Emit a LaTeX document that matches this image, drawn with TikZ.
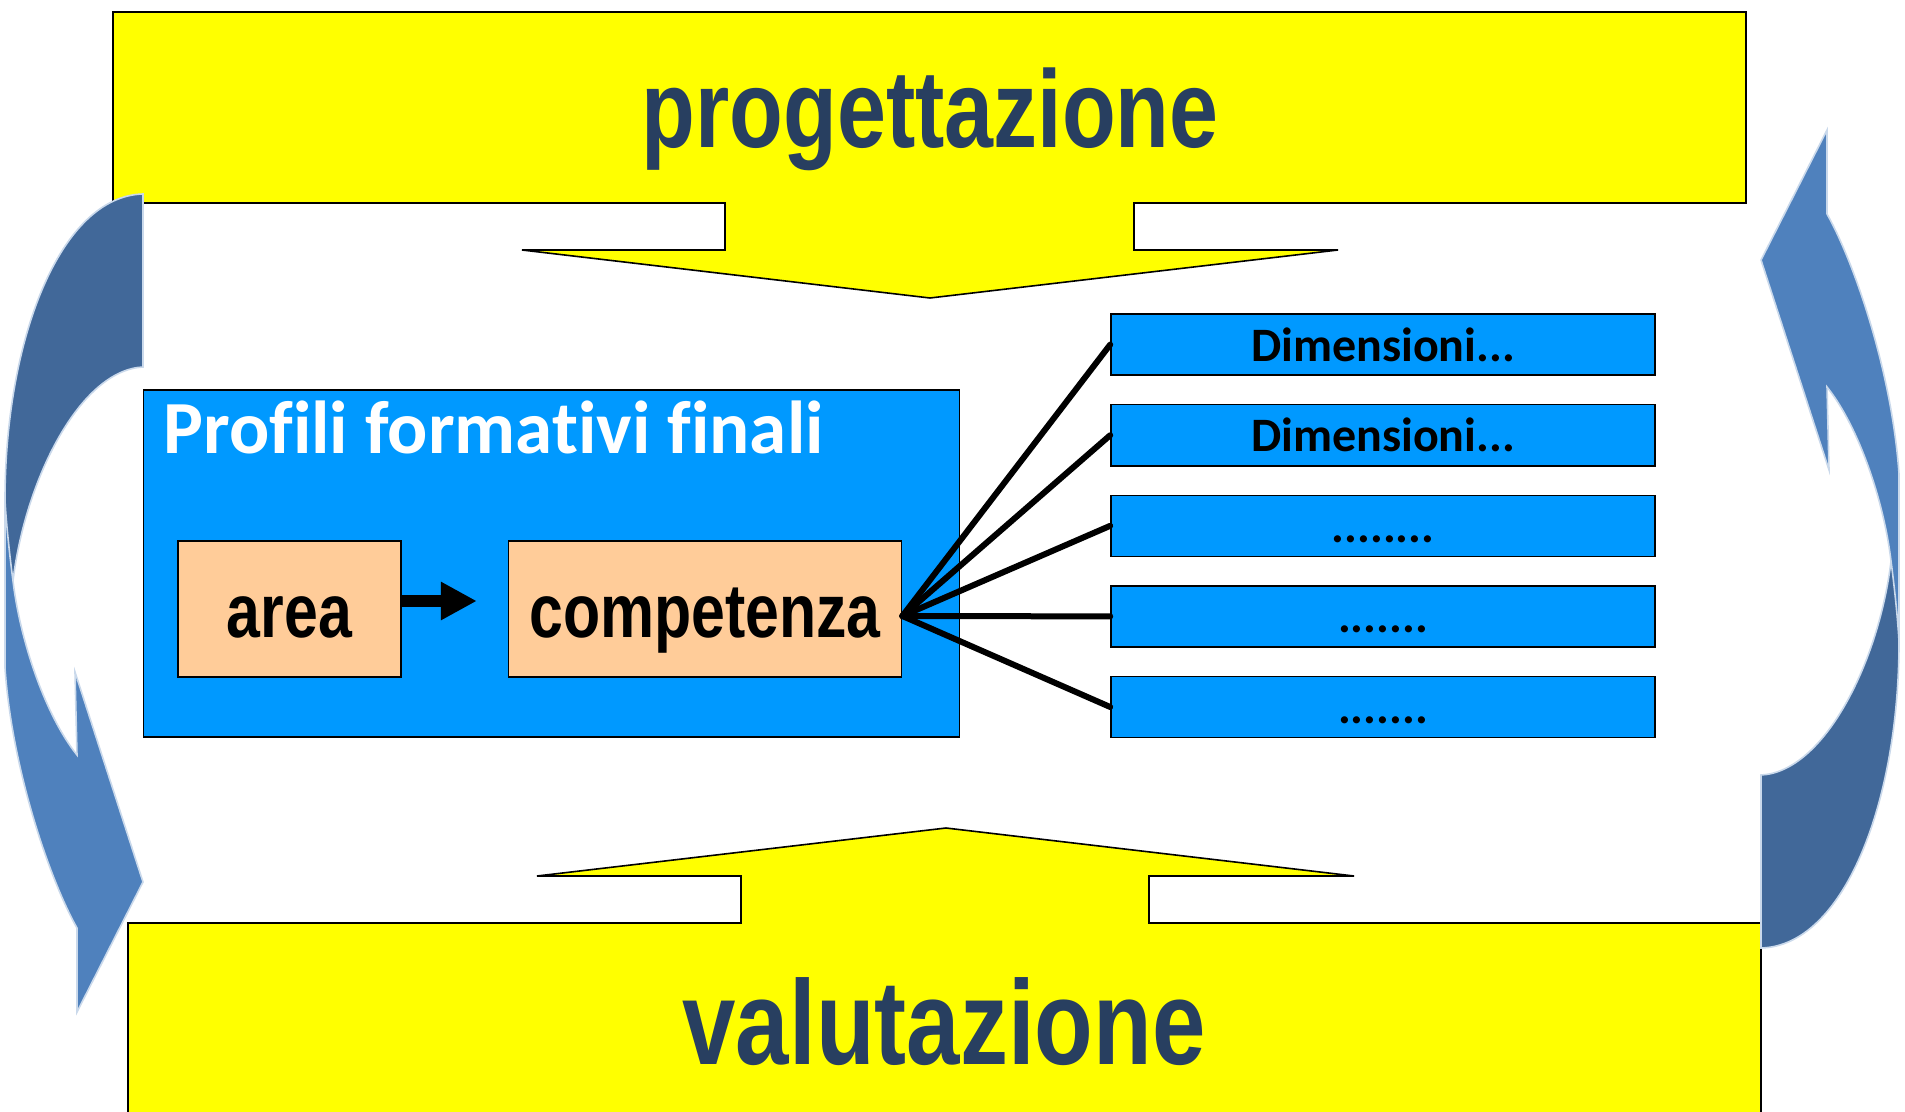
\documentclass[tikz,border=0pt]{standalone}
\usepackage{fontspec}
\setmainfont{Liberation Sans}
\newfontfamily\narrowfont[FakeStretch=0.8]{Liberation Sans}
\newfontfamily\calfont[Ligatures=NoCommon]{Carlito}
\usepackage{xcolor}
\usetikzlibrary{positioning,arrows.meta,calc}

\definecolor{titleblue}{RGB}{40,63,96}
\definecolor{boxyellow}{RGB}{255,255,0}
\definecolor{boxblue}{RGB}{0,153,255}
\definecolor{peach}{RGB}{255,204,153}
\definecolor{bendlight}{RGB}{79,129,189}
\definecolor{benddark}{RGB}{65,104,153}

% freccia curva (coda scura, punta chiara)
\newcommand{\bendarrow}{%
  \fill[benddark, draw=white!70!bendlight, line width=0.8pt]
    (143,194) .. controls (60,196) and (5,340) .. (5,500) -- (5,575) -- (13,581)
    .. controls (25,480) and (80,370) .. (143,367) -- cycle;
  \fill[bendlight, draw=white!70!bendlight, line width=0.8pt]
    (5,500) -- (5,668) .. controls (12,770) and (50,880) .. (77,928)
    -- (77,1012) -- (143,882) -- (75,672) -- (77,755)
    .. controls (45,715) and (20,640) .. (13,581)
    .. controls (9,550) and (6,520) .. (5,500) -- cycle;
}

\tikzset{
  yellowbox/.style={fill=boxyellow, draw=black, line width=0.8pt},
  titletext/.style={text=titleblue, inner sep=0pt, anchor=base},
  skillbox/.style={draw=black, fill=peach, line width=0.8pt, inner xsep=0pt, inner ysep=0pt,
    text height=48pt, text depth=20pt, font=\narrowfont\bfseries\fontsize{38}{40}\selectfont},
  dimbox/.style={draw=black, fill=boxblue, line width=0.8pt, minimum width=272pt, inner ysep=0pt,
    text height=23.5pt, text depth=7pt, font=\calfont\bfseries\fontsize{24}{26}\selectfont},
}

\begin{document}
\begin{tikzpicture}[x=0.5pt, y=-0.5pt]
  \useasboundingbox (0,0) rectangle (1905,1112);
  % Blocchi gialli con le frecce larghe
  \filldraw[yellowbox] (113,12) -- (1746,12) -- (1746,203) -- (1134,203) -- (1134,250)
    -- (1338,250) -- (930,298) -- (522,250) -- (725,250) -- (725,203) -- (113,203) -- cycle;
  \filldraw[yellowbox] (128,1125) -- (128,923) -- (741,923) -- (741,876) -- (537,876)
    -- (946,828) -- (1354,876) -- (1149,876) -- (1149,923) -- (1761,923) -- (1761,1125);
  \node[titletext, font=\narrowfont\bfseries\fontsize{55}{60}\selectfont] (prog) at (930,148) {progettazione};
  \node[titletext, font=\narrowfont\bfseries\fontsize{60}{64}\selectfont] (valu) at (944,1064) {valutazione};
  % Frecce curve ai lati
  \bendarrow
  \begin{scope}[rotate around={180:(952,571)}]
    \bendarrow
  \end{scope}
  % Profili
  \node[draw=black, fill=boxblue, line width=0.8pt, minimum width=408pt, minimum height=173.5pt,
    inner sep=0pt] (profili) at (551.5,563.5) {};
  \node[anchor=base west, inner sep=0pt, text=white, font=\calfont\bfseries\fontsize{37.5}{40}\selectfont]
    (titolo) at (163,453) {Profili formativi finali};
  \node[skillbox, minimum width=111.5pt] (area) at (289.5,609) {area};
  \node[skillbox, minimum width=196.5pt, right=53pt of area] (competenza) {competenza};
  \draw[-{Triangle[length=18pt,width=18pt]}, line width=6.3pt, shorten >=15.5pt]
    ([yshift=4pt]area.east) -- ([yshift=4pt]competenza.west);
  % Dimensioni
  \foreach \t [count=\i] in {Dimensioni.{}.{}., Dimensioni.{}.{}., .{}.{}.{}.{}.{}.{}.{}., .{}.{}.{}.{}.{}.{}., .{}.{}.{}.{}.{}.{}.}
    \node[dimbox] (d\i) at (1383,{254+90.6*\i}) {\t};
  \foreach \i in {1,...,5}
    \draw[line width=3pt, line cap=round] ([yshift=-3.5pt]competenza.east) -- (d\i.west);
\end{tikzpicture}
\end{document}
